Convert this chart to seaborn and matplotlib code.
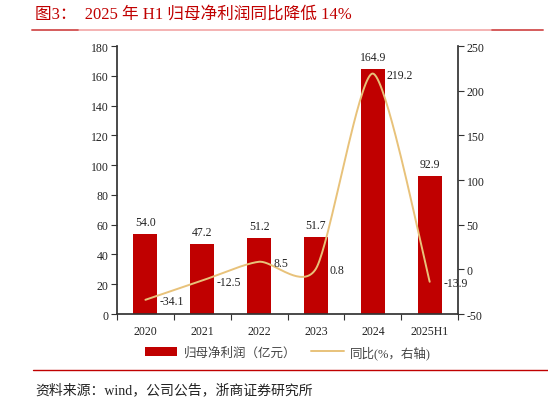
import numpy as np
import pandas as pd
import matplotlib
matplotlib.use('Agg')
import matplotlib.pyplot as plt
from matplotlib.lines import Line2D
from matplotlib.patches import Patch
import seaborn as sns

years = ['2020', '2021', '2022', '2023', '2024', '2025H1']
profit = [54.0, 47.2, 51.2, 51.7, 164.9, 92.9]
yoy = [-34.1, -12.5, 8.5, 0.8, 219.2, -13.9]

BAR_RED = '#C00000'
LINE_GOLD = '#E8C27A'
TITLE_RED = '#C00000'

sns.set_theme(style='white')
plt.rcParams['font.family'] = ['Liberation Serif', 'Noto Sans CJK SC']
plt.rcParams['axes.unicode_minus'] = False


def smooth_curve(xs, ys, k=0.12, n=40):
    # bezier smoothing through the points, a bit tighter than catmull-rom
    px = np.concatenate([[xs[0]], xs, [xs[-1]]])
    py = np.concatenate([[ys[0]], ys, [ys[-1]]])
    t = np.linspace(0, 1, n)[:, None]
    pts = []
    for i in range(1, len(px) - 2):
        p0 = np.array([px[i - 1], py[i - 1]])
        p1 = np.array([px[i], py[i]])
        p2 = np.array([px[i + 1], py[i + 1]])
        p3 = np.array([px[i + 2], py[i + 2]])
        c1 = p1 + (p2 - p0) * k
        c2 = p2 - (p3 - p1) * k
        seg = ((1 - t) ** 3) * p1 + 3 * ((1 - t) ** 2) * t * c1 \
            + 3 * (1 - t) * t ** 2 * c2 + t ** 3 * p2
        pts.append(seg)
    pts = np.vstack(pts)
    return pts[:, 0], pts[:, 1]


df = pd.DataFrame({'year': years, 'profit': profit, 'yoy': yoy})

fig = plt.figure(figsize=(5.48, 4.02), dpi=100)
ax = fig.add_axes([0.2135, 0.2164, 0.6225, 0.6666])

sns.barplot(data=df, x='year', y='profit', color=BAR_RED, width=0.42,
            saturation=1, linewidth=0, ax=ax)
ax.set_xlim(-0.5, len(years) - 0.5)
ax.set_ylim(0, 180)
ax.set_yticks(np.arange(0, 181, 20))
ax.set_xlabel('')
ax.set_ylabel('')

for i, v in enumerate(profit):
    ax.annotate(f'{v:.1f}', (i, v), xytext=(0, 6), textcoords='offset pixels',
                ha='center', va='bottom', fontsize=8.5, color='#222222')

ax2 = ax.twinx()
xs = np.arange(len(yoy), dtype=float)
cx, cy = smooth_curve(xs, np.array(yoy, dtype=float))
ax2.plot(cx, cy, color=LINE_GOLD, lw=1.4)
ax2.set_ylim(-50, 250)
ax2.set_yticks(np.arange(-50, 251, 50))
for i, v in enumerate(yoy):
    ax2.annotate(f'{v:.1f}', (i, v), xytext=(14, -1), textcoords='offset pixels',
                 ha='left', va='center', fontsize=8.5, color='#222222')

for a in (ax, ax2):
    a.spines['top'].set_visible(False)
    a.tick_params(axis='y', labelsize=8.5, colors='#222222', length=4, width=0.8,
                  direction='out', pad=2)
ax.spines['right'].set_visible(False)
ax.spines['left'].set_color('#333333')
ax.spines['bottom'].set_color('#333333')
ax2.spines['left'].set_visible(False)
ax2.spines['bottom'].set_visible(False)
ax2.spines['right'].set_color('#333333')
ax2.tick_params(axis='y', left=False, right=True, color='#333333')
ax.tick_params(axis='y', left=True, color='#333333')

ax.set_xticks(range(len(years)))
ax.set_xticklabels(years, fontsize=8.5, color='#222222')
ax.tick_params(axis='x', which='major', length=0, pad=8)
ax.set_xticks(np.arange(-0.5, len(years), 1.0), minor=True)
ax.tick_params(axis='x', which='minor', bottom=True, length=4, width=0.8,
               direction='out', color='#333333')

handles = [Patch(facecolor=BAR_RED, edgecolor='none'),
           Line2D([0], [0], color=LINE_GOLD, lw=1.4)]
fig.legend(handles, ['归母净利润（亿元）', '同比(%，右轴)'], loc='center',
           bbox_to_anchor=(0.525, 1 - 353 / 402), ncol=2, frameon=False,
           fontsize=9, handlelength=2.6, handleheight=0.8, columnspacing=1.2,
           handletextpad=0.5, labelcolor='#444444')

fig.text(35 / 548, 1 - 15 / 402, '图3：  2025 年 H1 归母净利润同比降低 14%',
         fontsize=12, color=TITLE_RED, ha='left', va='center')
fig.add_artist(Line2D([32 / 548, 543 / 548], [1 - 31 / 402] * 2,
                      color='#F2A6A6', lw=1.2))
fig.add_artist(Line2D([32 / 548, 78 / 548], [1 - 31 / 402] * 2,
                      color='#D05050', lw=1.2))
fig.add_artist(Line2D([492 / 548, 543 / 548], [1 - 31 / 402] * 2,
                      color='#D05050', lw=1.2))
fig.add_artist(Line2D([33 / 548, 1.0], [1 - 371 / 402] * 2,
                      color='#C00000', lw=1.0))
fig.text(35 / 548, 1 - 390 / 402, '资料来源：wind，公司公告，浙商证券研究所',
         fontsize=10, color='#222222', ha='left', va='center')

fig.savefig('out.png', dpi=100)
